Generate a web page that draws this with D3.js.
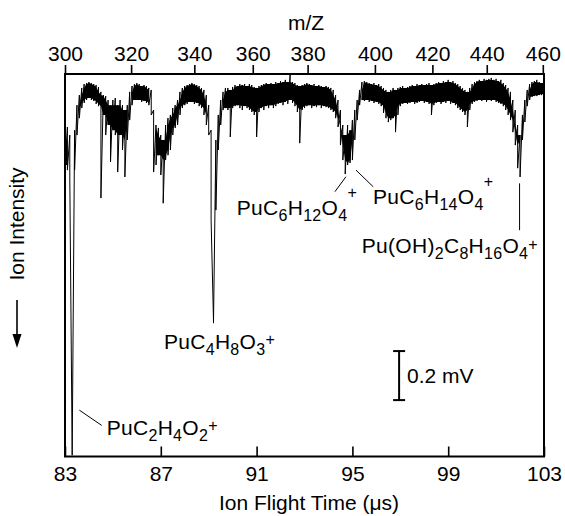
<!DOCTYPE html>
<html>
<head>
<meta charset="utf-8">
<script src="https://cdn.jsdelivr.net/npm/d3@7"></script>
<style>
  html, body { margin: 0; padding: 0; background: #fff; }
  svg { display: block; font-family: "Liberation Sans", Arial, Helvetica, sans-serif; }
</style>
</head>
<body>
<div id="chart"></div>
<script>
// flight time ticks (bottom) and m/Z ticks (top, placed at their flight time)
const timeTicks = [83, 87, 91, 95, 99, 103];
const mzLabels = [300, 320, 340, 360, 380, 400, 420, 440, 460];
const mzTickTimes = [83.0, 85.76, 88.40, 90.84, 93.13, 95.94, 98.34, 100.61, 102.95];

// trace: min / max of the signal (mV, down = more ions) per 0.1 us bin from 83 us
const traceStart = 83, traceStep = 0.1;
const traceLo = [
  0.189, 0.136, 0.169, 1.470, 0.149, 0.047, 0.006, -0.023, -0.039, -0.043,
  -0.047, -0.043, -0.039, -0.035, -0.027, -0.007, 0.006, 0.010, 0.026, 0.047,
  0.026, 0.018, 0.047, 0.026, 0.047, 0.067, 0.047, -0.007, -0.031, -0.039,
  -0.043, -0.039, -0.031, -0.035, -0.031, -0.023, -0.015, 0.067, 0.128, 0.140,
  0.169, 0.189, 0.128, 0.100, 0.087, 0.059, 0.047, 0.026, -0.007, -0.023,
  -0.031, -0.035, -0.039, -0.043, -0.039, -0.035, -0.031, -0.023, -0.015, 0.006,
  0.047, 0.149, 0.924, 0.189, 0.087, 0.026, -0.007, -0.023, -0.023, -0.015,
  -0.027, -0.035, -0.031, -0.039, -0.035, -0.039, -0.031, -0.039, -0.035, -0.027,
  -0.023, -0.031, -0.035, -0.039, -0.043, -0.039, -0.043, -0.039, -0.047, -0.043,
  -0.051, -0.047, -0.056, -0.047, -0.076, -0.047, -0.043, -0.035, -0.031, -0.035,
  -0.039, -0.043, -0.039, -0.035, -0.039, -0.031, -0.035, -0.031, -0.027, -0.031,
  -0.027, -0.023, -0.015, 0.006, 0.026, 0.067, 0.128, 0.169, 0.128, 0.149,
  0.108, 0.067, 0.026, -0.015, -0.047, -0.051, -0.047, -0.043, -0.039, -0.043,
  -0.035, -0.039, -0.031, -0.023, -0.015, -0.007, -0.015, -0.023, -0.015, -0.023,
  -0.027, -0.031, -0.023, -0.027, -0.031, -0.035, -0.031, -0.039, -0.035, -0.039,
  -0.035, -0.039, -0.043, -0.035, -0.039, -0.043, -0.047, -0.043, -0.051, -0.047,
  -0.056, -0.047, -0.051, -0.043, -0.039, -0.031, -0.023, -0.015, -0.007, -0.023,
  -0.039, -0.047, -0.051, -0.056, -0.051, -0.060, -0.056, -0.060, -0.064, -0.056,
  -0.060, -0.051, -0.056, -0.043, -0.035, -0.023, -0.007, 0.026, 0.067, 0.128,
  0.169, 0.087, 0.026, -0.015, -0.039, -0.047, -0.051, -0.056, -0.047, -0.043,
  -0.047
];
const traceHi = [
  0.291, 0.312, 0.340, 1.475, 0.312, 0.169, 0.100, 0.059, 0.038, 0.026,
  0.018, 0.026, 0.030, 0.042, 0.051, 0.426, 0.087, 0.169, 0.128, 0.279,
  0.149, 0.169, 0.320, 0.169, 0.230, 0.340, 0.189, 0.108, 0.047, 0.026,
  0.026, 0.026, 0.034, 0.030, 0.038, 0.047, 0.087, 0.320, 0.291, 0.251,
  0.332, 0.447, 0.271, 0.251, 0.230, 0.169, 0.140, 0.128, 0.087, 0.059,
  0.047, 0.042, 0.034, 0.034, 0.042, 0.038, 0.051, 0.059, 0.087, 0.128,
  0.169, 0.516, 0.936, 0.475, 0.230, 0.128, 0.067, 0.059, 0.067, 0.177,
  0.059, 0.051, 0.047, 0.059, 0.067, 0.051, 0.059, 0.067, 0.075, 0.087,
  0.177, 0.075, 0.059, 0.067, 0.051, 0.059, 0.047, 0.059, 0.051, 0.042,
  0.038, 0.047, 0.034, 0.042, 0.026, 0.038, 0.051, 0.075, 0.202, 0.067,
  0.059, 0.051, 0.047, 0.059, 0.051, 0.055, 0.047, 0.059, 0.051, 0.055,
  0.059, 0.067, 0.075, 0.100, 0.136, 0.210, 0.271, 0.328, 0.291, 0.283,
  0.271, 0.189, 0.108, 0.047, 0.026, 0.030, 0.026, 0.034, 0.030, 0.038,
  0.034, 0.042, 0.051, 0.079, 0.100, 0.116, 0.108, 0.100, 0.157, 0.087,
  0.051, 0.042, 0.038, 0.042, 0.038, 0.034, 0.042, 0.038, 0.034, 0.030,
  0.038, 0.034, 0.042, 0.087, 0.047, 0.038, 0.034, 0.042, 0.034, 0.038,
  0.030, 0.042, 0.038, 0.047, 0.059, 0.067, 0.075, 0.087, 0.136, 0.067,
  0.042, 0.034, 0.030, 0.026, 0.030, 0.026, 0.034, 0.026, 0.030, 0.026,
  0.034, 0.038, 0.042, 0.051, 0.067, 0.087, 0.108, 0.157, 0.210, 0.304,
  0.340, 0.189, 0.116, 0.051, 0.026, 0.014, 0.010, 0.010, 0.006, 0.006,
  0.002
];

// peak assignments
const peakLabels = [
  "PuC_{2}H_{4}O_{2}^{+}",
  "PuC_{4}H_{8}O_{3}^{+}",
  "PuC_{6}H_{12}O_{4}^{+}",
  "PuC_{6}H_{14}O_{4}^{+}",
  "Pu(OH)_{2}C_{8}H_{16}O_{4}^{+}"
];
const scaleBarMv = 0.2;

const width = 565, height = 516;
const margin = { top: 74, right: 21, bottom: 59.5, left: 65 };
const fontSize = 21;

const svg = d3.select("#chart")
  .append("svg")
  .attr("width", width)
  .attr("height", height);

const x = d3.scaleLinear()
  .domain([83, 103])
  .range([margin.left, width - margin.right]);

const y = d3.scaleLinear()
  .domain([-0.08, 1.48])
  .range([margin.top, height - margin.bottom]);

// trace: dense core of the band (what all neighbouring bins share) is filled,
// the min/max zigzag on top gives the spikes
const n = traceLo.length;
const bins = traceLo.map((lo, i) => {
  const a = Math.max(0, i - 1), b = Math.min(n - 1, i + 1);
  return {
    t: traceStart + i * traceStep,
    lo: lo,
    hi: traceHi[i],
    c0: Math.max(traceLo[a], lo, traceLo[b]),
    c1: Math.min(traceHi[a], traceHi[i], traceHi[b])
  };
});
const pts = [];
bins.forEach(b => {
  pts.push([b.t, b.lo]);
  pts.push([b.t, b.hi]);
});

svg.append("defs").append("clipPath")
  .attr("id", "clip")
  .append("rect")
  .attr("x", margin.left)
  .attr("y", margin.top)
  .attr("width", width - margin.left - margin.right)
  .attr("height", height - margin.top - margin.bottom);

const plot = svg.append("g").attr("clip-path", "url(#clip)");

plot.append("path")
  .datum(bins)
  .attr("fill", "#000")
  .attr("d", d3.area()
    .defined(d => d.c0 < d.c1)
    .x(d => x(d.t)).y0(d => y(d.c0)).y1(d => y(d.c1)));

plot.append("path")
  .datum(pts)
  .attr("fill", "none")
  .attr("stroke", "#000")
  .attr("stroke-width", 1)
  .attr("d", d3.line().x(d => x(d[0])).y(d => y(d[1])));

// frame
svg.append("rect")
  .attr("x", margin.left)
  .attr("y", margin.top)
  .attr("width", width - margin.left - margin.right)
  .attr("height", height - margin.top - margin.bottom)
  .attr("fill", "none")
  .attr("stroke", "#000")
  .attr("stroke-width", 2);

// bottom axis: ticks point inward
const xAxis = svg.append("g")
  .attr("transform", `translate(0,${height - margin.bottom})`)
  .call(d3.axisBottom(x).tickValues(timeTicks).tickSizeInner(-10).tickSizeOuter(0).tickPadding(10));

// top axis: m/Z
const mzAxis = svg.append("g")
  .attr("transform", `translate(0,${margin.top})`)
  .call(d3.axisTop(x).tickValues(mzTickTimes).tickFormat((d, i) => mzLabels[i]).tickSizeInner(9).tickSizeOuter(0).tickPadding(4));

[xAxis, mzAxis].forEach(g => {
  g.select(".domain").remove();
  g.selectAll(".tick line").attr("stroke", "#000").attr("stroke-width", 1.6);
  g.selectAll(".tick text").attr("fill", "#000").style("font-size", fontSize + "px").style("font-family", "'Liberation Sans', Arial, sans-serif");
});

svg.append("text")
  .attr("x", 306)
  .attr("y", 30)
  .attr("text-anchor", "middle")
  .style("font-size", fontSize + "px")
  .text("m/Z");

svg.append("text")
  .attr("x", 309)
  .attr("y", 510)
  .attr("text-anchor", "middle")
  .style("font-size", fontSize + "px")
  .text("Ion Flight Time (\u03bcs)");

// y label with arrow pointing down
svg.append("text")
  .attr("transform", `translate(24,224) rotate(-90)`)
  .attr("text-anchor", "middle")
  .style("font-size", fontSize + "px")
  .text("Ion Intensity");

svg.append("line")
  .attr("x1", 17).attr("x2", 17)
  .attr("y1", 300).attr("y2", 336)
  .attr("stroke", "#000")
  .attr("stroke-width", 1.6);

svg.append("path")
  .attr("d", "M12.5,334 L21.5,334 L17,348 Z")
  .attr("fill", "#000");

// peak labels (anchor in data units) and leader lines
const labelPos = [[84.74, 1.393], [87.13, 1.040], [90.17, 0.496], [95.86, 0.451], [95.39, 0.652]];
const supRaise = [-4, -4, -17, -17, -3];
const leaders = [
  [83.60, 1.291, 84.53, 1.353],
  null,
  [94.73, 0.339, 94.27, 0.400],
  [95.15, 0.312, 95.87, 0.380],
  [101.98, 0.366, 101.98, 0.557]
];

function formula(sel, str, sup) {
  const parts = str.match(/_\{[^}]*\}|\^\{[^}]*\}|[^_^]+/g);
  let shift = 0;
  parts.forEach(p => {
    let kind = "n", txt = p;
    if (p[0] === "_") { kind = "sub"; txt = p.slice(2, -1); }
    else if (p[0] === "^") { kind = "sup"; txt = p.slice(2, -1); }
    const target = kind === "sub" ? 6 : kind === "sup" ? sup : 0;
    sel.append("tspan")
      .attr("dy", target - shift)
      .style("font-size", kind === "n" ? fontSize + "px" : "16px")
      .text(txt);
    shift = target;
  });
}

peakLabels.forEach((lab, i) => {
  const t = svg.append("text")
    .attr("x", x(labelPos[i][0]))
    .attr("y", y(labelPos[i][1]))
    .style("font-size", fontSize + "px")
    .style("letter-spacing", "0.3px");
  formula(t, lab, supRaise[i]);
  const l = leaders[i];
  if (l) {
    svg.append("line")
      .attr("x1", x(l[0])).attr("y1", y(l[1]))
      .attr("x2", x(l[2])).attr("y2", y(l[3]))
      .attr("stroke", "#000")
      .attr("stroke-width", 1);
  }
});

// 0.2 mV scale bar
const barT = 96.95, barTop = 1.05;
const bar = svg.append("g").attr("stroke", "#000").attr("stroke-width", 2);
bar.append("line")
  .attr("x1", x(barT)).attr("x2", x(barT))
  .attr("y1", y(barTop)).attr("y2", y(barTop + scaleBarMv));
[barTop, barTop + scaleBarMv].forEach(v => {
  bar.append("line")
    .attr("x1", x(barT) - 6).attr("x2", x(barT) + 6)
    .attr("y1", y(v)).attr("y2", y(v));
});
svg.append("text")
  .attr("x", x(barT) + 8)
  .attr("y", y(barTop + scaleBarMv / 2) + 7)
  .style("font-size", fontSize + "px")
  .text(scaleBarMv + " mV");
</script>
</body>
</html>
